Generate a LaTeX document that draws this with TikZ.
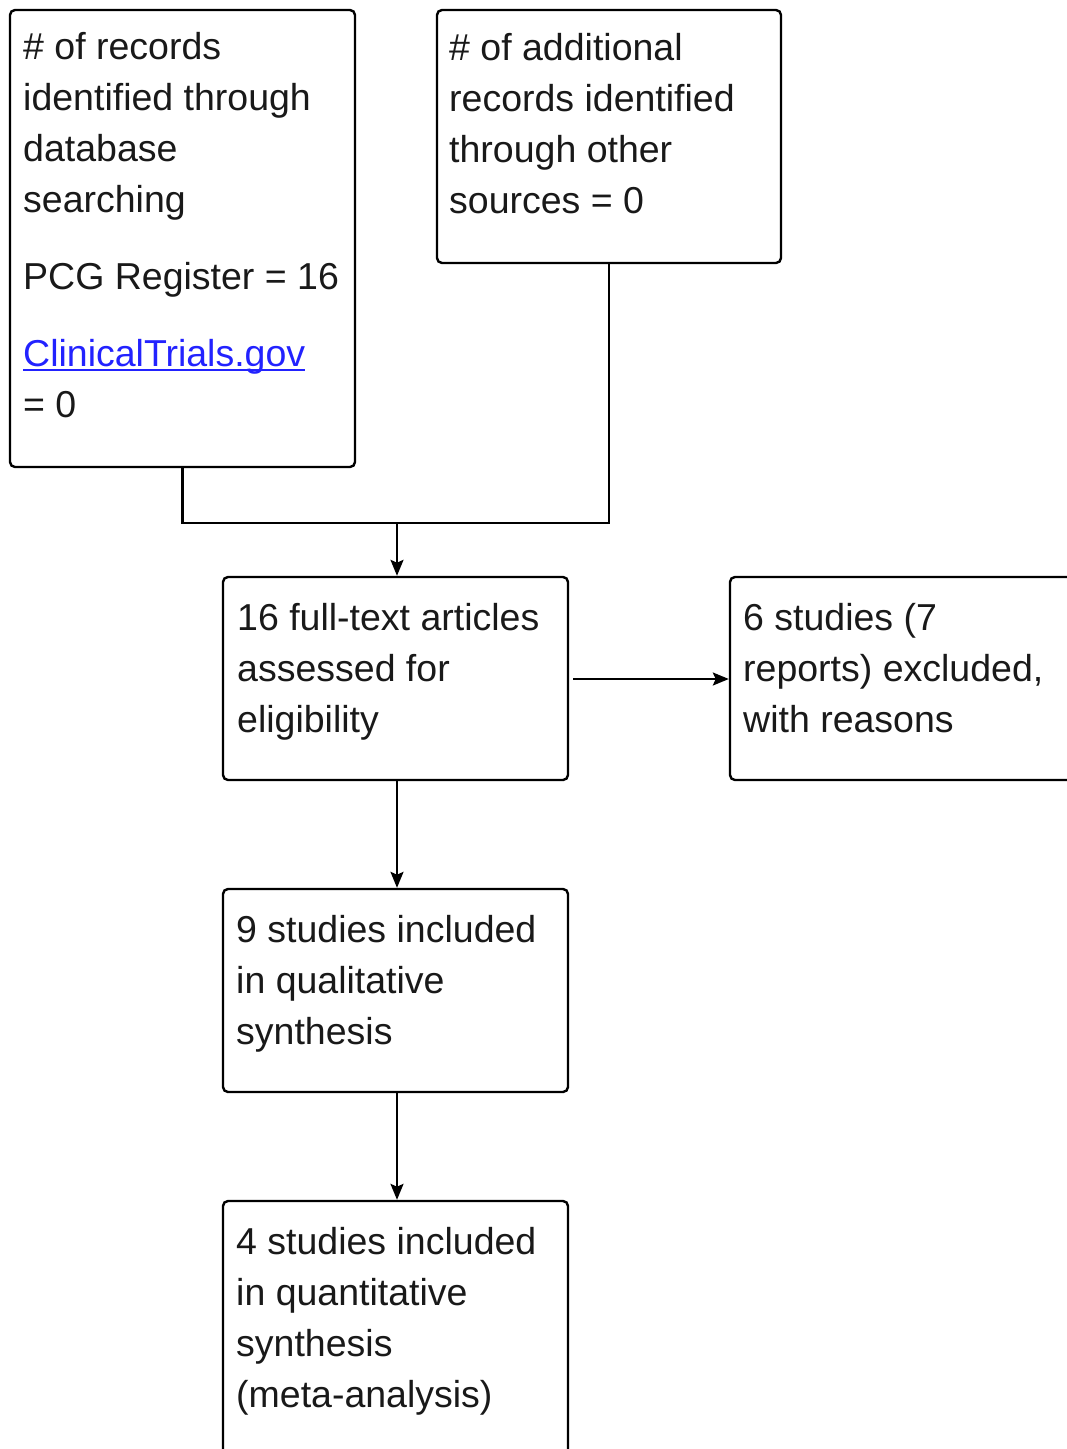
\documentclass[tikz,border=0pt]{standalone}
\usepackage{fontspec}
\setmainfont{Liberation Sans}
\usetikzlibrary{arrows.meta}
\definecolor{linkblue}{RGB}{34,34,255}
\definecolor{txt}{RGB}{25,25,25}
\newcommand{\linkul}[1]{\setbox0\hbox{#1}\rlap{\raisebox{-5pt}{\rule{\wd0}{2pt}}}\box0}
\begin{document}
\begin{tikzpicture}[x=1pt,y=-1pt,
  flowbox/.style={draw=black,line width=2.4pt,rounded corners=5pt,inner sep=0pt,minimum width=345pt},
  flowtext/.style={anchor=base west,inner sep=0pt,align=left,text=txt,font=\fontsize{37.5}{51}\selectfont},
  conn/.style={line width=2.4pt,draw=black},
  arr/.style={conn,-{Stealth[length=16pt,width=13pt,inset=3pt]}}]
\useasboundingbox (0,0) rectangle (1067,1449);
\clip (0,0) rectangle (1067,1449);
% boxes
\node[flowbox,minimum height=457pt] (A) at (182.5,238.5) {};
\node[flowbox,minimum width=344pt,minimum height=253pt] (B) at (609,136.5) {};
\node[flowbox,minimum height=203pt] (C) at (395.5,678.5) {};
\node[flowbox,minimum width=350pt,minimum height=203pt] (D) at (905,678.5) {};
\node[flowbox,minimum height=203pt] (E) at (395.5,990.5) {};
\node[flowbox,minimum height=260pt] (F) at (395.5,1331) {};
% texts (base anchor = baseline of last line)
\node[flowtext] (At) at (23,417) {\# of records\\identified through\\database\\searching\\[26pt]PCG Register = 16\\[26pt]\textcolor{linkblue}{\linkul{ClinicalTrials.gov}}\\= 0};
\node[flowtext] (Bt) at (449,213) {\# of additional\\records identified\\through other\\sources = 0};
\node[flowtext] (Ct) at (237,732) {16 full-text articles\\assessed for\\eligibility};
\node[flowtext] (Dt) at (743,732) {6 studies (7\\reports) excluded,\\with reasons};
\node[flowtext] (Et) at (236,1044) {9 studies included\\in qualitative\\synthesis};
\node[flowtext] (Ft) at (236,1407) {4 studies included\\in quantitative\\synthesis\\(meta-analysis)};
% connectors
\coordinate (M) at (397,523);
\draw[conn] (A.south) |- (M) -| (B.south);
\draw[arr] (M) -- (M |- C.north);
\draw[arr,shorten <=4pt] (C.east |- 0,679) -- (D.west |- 0,679);
\draw[arr] (M |- C.south) -- (M |- E.north);
\draw[arr] (M |- E.south) -- (M |- F.north);
\end{tikzpicture}
\end{document}
